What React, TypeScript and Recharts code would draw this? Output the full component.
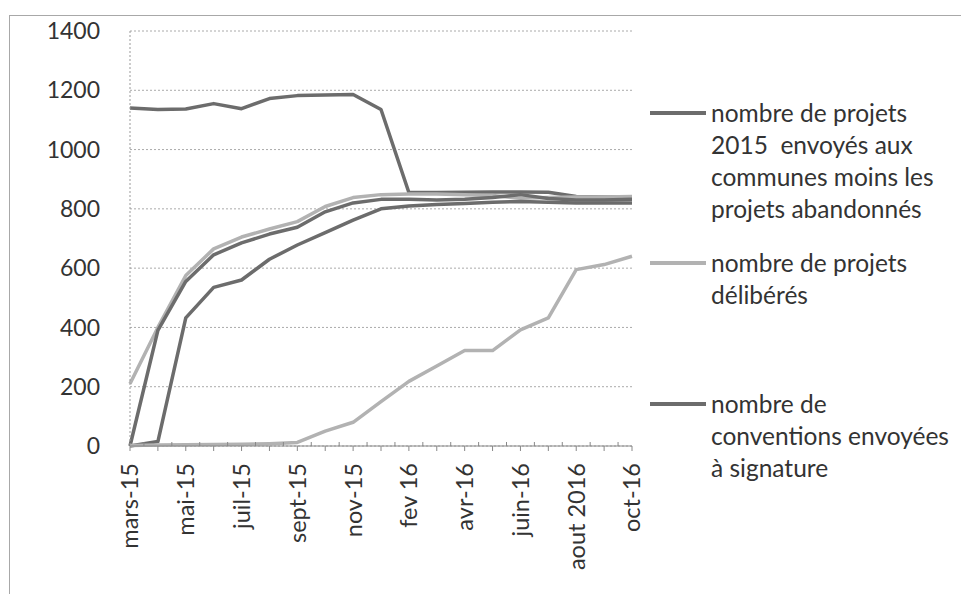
import { LineChart, Line, XAxis, YAxis, CartesianGrid } from 'recharts'

const months = [
  'mars-15', 'avr-15', 'mai-15', 'juin-15', 'juil-15', 'août-15', 'sept-15', 'oct-15', 'nov-15', 'déc-15',
  'fev 16', 'mars-16', 'avr-16', 'mai-16', 'juin-16', 'juil-16', 'aout 2016', 'sept-16', 'oct-16',
]

const projetsEnvoyes = [1140, 1135, 1137, 1155, 1138, 1172, 1182, 1184, 1186, 1135, 855, 855, 856, 857, 857, 856, 842, 840, 840]
const serieClaire = [210, 400, 575, 665, 705, 732, 757, 808, 838, 848, 850, 850, 848, 845, 836, 838, 840, 840, 842]
const serieFoncee = [0, 390, 555, 645, 685, 715, 738, 790, 820, 832, 832, 830, 832, 838, 848, 835, 830, 830, 832]
const conventions = [0, 15, 432, 535, 560, 630, 678, 720, 762, 800, 810, 815, 818, 822, 825, 822, 820, 820, 820]
const deliberes = [2, 3, 4, 5, 6, 8, 12, 50, 80, 150, 218, 270, 322, 322, 392, 432, 595, 612, 640]

const yTicks = [0, 200, 400, 600, 800, 1000, 1200, 1400]

const DARK = '#6c6c6c'
const LIGHT = '#b2b2b2'
const FONT = 'Lato, sans-serif'

// drawing order, later on top
const series = [
  { key: 'envoyes', color: DARK },
  { key: 'claire', color: LIGHT },
  { key: 'foncee', color: DARK },
  { key: 'conventions', color: DARK },
  { key: 'deliberes', color: LIGHT },
]

const legendItems = [
  { key: 'envoyes', lines: ['nombre de projets', '2015  envoyés aux', 'communes moins les', 'projets abandonnés'], gap: 0 },
  { key: 'deliberes', lines: ['nombre de projets', 'délibérés'], gap: 22 },
  { key: 'conventions', lines: ['nombre de', 'conventions envoyées', 'à signature'], gap: 77 },
]

const data = months.map((m, i) => ({
  month: m,
  envoyes: projetsEnvoyes[i],
  claire: serieClaire[i],
  foncee: serieFoncee[i],
  conventions: conventions[i],
  deliberes: deliberes[i],
}))

const W = 961
const H = 586
const margin = { top: 23, right: 337, bottom: 48, left: 0 }
const plotW = W - margin.right - 122
const halfStep = plotW / (months.length - 1) / 2

function MonthTick(props: any) {
  const { x, y, index } = props
  const axisY = y - 8
  return (
    <g>
      {index < months.length - 1 && (
        <line x1={x + halfStep} x2={x + halfStep} y1={axisY} y2={axisY - 4} stroke="#888" />
      )}
      {index % 2 === 0 && (
        <text
          x={x}
          y={y + 9}
          dy="0.36em"
          transform={`rotate(-90, ${x}, ${y + 9})`}
          textAnchor="end"
          fill="#333"
          fontSize={23.5}
          fontFamily={FONT}
        >
          {props.payload.value}
        </text>
      )}
    </g>
  )
}

function LegendBox() {
  return (
    <div
      style={{
        position: 'absolute',
        left: 642,
        top: 89,
        width: 319,
        fontFamily: FONT,
        fontSize: 24.5,
        color: '#333',
        lineHeight: '32px',
      }}
    >
      {legendItems.map((item) => {
        const s = series.find((x) => x.key === item.key)!
        return (
          <div key={item.key} style={{ display: 'flex', marginTop: item.gap }}>
            <div style={{ width: 56, height: 4, background: s.color, marginTop: 14, marginRight: 5, flex: 'none' }} />
            <div>
              {item.lines.map((l) => (
                <div key={l} style={{ whiteSpace: 'pre' }}>{l}</div>
              ))}
            </div>
          </div>
        )
      })}
    </div>
  )
}

export default function App() {
  return (
    <div style={{ position: 'relative', width: W, height: H }}>
      <div
        style={{
          position: 'absolute',
          left: 1,
          top: 7,
          right: 0,
          bottom: 0,
          borderTop: '1.5px solid #a8a8a8',
          borderLeft: '1.5px solid #a8a8a8',
        }}
      />
      <LineChart width={W} height={H} data={data} margin={margin}>
        <CartesianGrid vertical={false} stroke="#aaa" strokeDasharray="2 2" />
        <XAxis
          dataKey="month"
          interval={0}
          height={100}
          tick={<MonthTick />}
          tickSize={5}
          tickMargin={3}
          axisLine={{ stroke: '#888' }}
          tickLine={{ stroke: '#888' }}
        />
        <YAxis
          width={122}
          domain={[0, 1400]}
          ticks={yTicks}
          tickSize={0}
          tickMargin={30}
          axisLine={{ stroke: '#999', strokeDasharray: '2 2' }}
          tick={{ fill: '#333', fontSize: 23, fontFamily: FONT }}
        />
        {series.map((s) => (
          <Line
            key={s.key}
            dataKey={s.key}
            stroke={s.color}
            strokeWidth={3.5}
            strokeLinejoin="round"
            dot={false}
            isAnimationActive={false}
          />
        ))}
      </LineChart>
      <LegendBox />
    </div>
  )
}
